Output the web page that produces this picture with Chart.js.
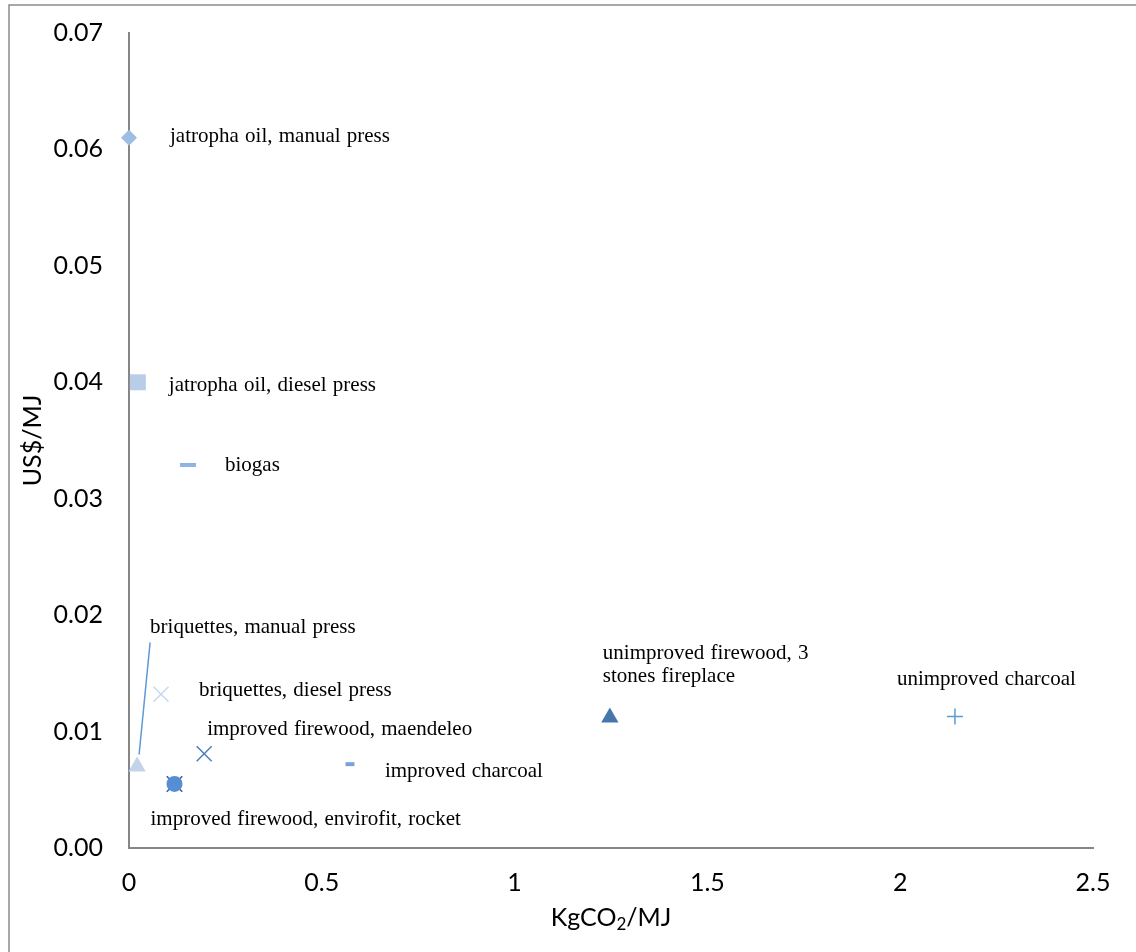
<!DOCTYPE html>
<html>
<head>
<meta charset="utf-8">
<script src="https://cdn.jsdelivr.net/npm/chart.js@4.4.1/dist/chart.umd.min.js"></script>
<style>
  html, body { margin: 0; padding: 0; background: #fff; }
  canvas { display: block; }
</style>
</head>
<body>
<canvas id="plot" width="1136" height="952"></canvas>
<script>
// values
const seriesNames = [
    'jatropha oil, manual press',
    'jatropha oil, diesel press',
    'biogas',
    'briquettes, manual press',
    'briquettes, diesel press',
    'improved firewood, maendeleo',
    'improved firewood, envirofit',
    'improved firewood, rocket',
    'improved charcoal',
    'unimproved firewood, 3 stones fireplace',
    'unimproved charcoal'
];
const xValues = [0.0, 0.023, 0.153, 0.021, 0.083, 0.195, 0.118, 0.118, 0.573, 1.247, 2.142];
const yValues = [0.0610, 0.0400, 0.0329, 0.0070, 0.0132, 0.0081, 0.0055, 0.0055, 0.0072, 0.0112, 0.0113];
const xTicks = [0, 0.5, 1, 1.5, 2, 2.5];
const yTicks = [0, 0.01, 0.02, 0.03, 0.04, 0.05, 0.06, 0.07];

// text next to the markers (which series it belongs to)
const labelTexts = [
    ['jatropha oil, manual press'],
    ['jatropha oil, diesel press'],
    ['biogas'],
    ['briquettes, manual press'],
    ['briquettes, diesel press'],
    ['improved firewood, maendeleo'],
    ['improved firewood, envirofit, rocket'],
    ['improved charcoal'],
    ['unimproved firewood, 3', 'stones fireplace'],
    ['unimproved charcoal']
];
const labelSeries = [0, 1, 2, 3, 4, 5, 7, 8, 9, 10];

// styling, kept apart from the data
const markers = [
    { shape: 'rectRot', color: '#9DBDE4', r: 8, w: 0 },
    { shape: 'rect', color: '#B9CDE8', r: 11.3, w: 0 },
    { shape: 'line', color: '#8EB4E3', r: 8, w: 4 },
    { shape: 'triangle', color: '#C3D3EA', r: 10, w: 0 },
    { shape: 'crossRot', color: '#C6D9F1', r: 10.6, w: 1.5 },
    { shape: 'crossRot', color: '#4A7EBB', r: 10.6, w: 1.5 },
    { shape: 'crossRot', color: '#2F5F95', r: 11, w: 1.5 },
    { shape: 'circle', color: '#558ED5', r: 8, w: 0 },
    { shape: 'line', color: '#7BA3D8', r: 4.5, w: 4 },
    { shape: 'triangle', color: '#4677AA', r: 10, w: 0 },
    { shape: 'cross', color: '#5B9BD5', r: 8, w: 1.5 }
];
const labelOffsets = [[41, 4.5], [31, 9], [37, 6], [13, -134], [38, 2], [3, -19], [-24, 41], [35, 13], [-7, -59], [-58, -31]];

const tickFont = "Lato, 'Liberation Sans', sans-serif";
const serifFont = "'Liberation Serif', serif";
const plotTop = 33;

const datasets = seriesNames.map((name, i) => {
    const m = markers[i];
    const stroked = m.w > 0;
    return {
        label: name,
        data: [{ x: xValues[i], y: yValues[i] }],
        pointStyle: m.shape,
        pointRadius: m.r,
        pointBackgroundColor: m.color,
        pointBorderColor: m.color,
        pointBorderWidth: stroked ? m.w : 0,
        clip: false,
        order: m.shape === 'crossRot' && i === 6 ? 1 : 0
    };
});

const decorPlugin = {
    id: 'decor',
    afterLayout(chart) {
        // pin the top of the plot area
        const ys = chart.scales.y;
        chart.chartArea.top = plotTop;
        chart.chartArea.height = chart.chartArea.bottom - plotTop;
        ys.top = plotTop;
        ys.height = ys.bottom - plotTop;
        ys.configure();
    },
    afterDraw(chart) {
        const ctx = chart.ctx;
        const xs = chart.scales.x, ys = chart.scales.y;
        const area = chart.chartArea;
        ctx.save();

        // outer frame
        ctx.strokeStyle = '#8C8C8C';
        ctx.lineWidth = 1.5;
        ctx.beginPath();
        ctx.moveTo(9, chart.height);
        ctx.lineTo(9, 5);
        ctx.lineTo(chart.width, 5);
        ctx.stroke();

        // leader line for briquettes, manual press
        const bx = xs.getPixelForValue(xValues[3]);
        const by = ys.getPixelForValue(yValues[3]);
        ctx.strokeStyle = '#5B9BD5';
        ctx.lineWidth = 1.5;
        ctx.beginPath();
        ctx.moveTo(bx + 13, by - 124);
        ctx.lineTo(bx + 2, by - 12);
        ctx.stroke();

        // marker labels
        ctx.fillStyle = '#000';
        ctx.font = '21px ' + serifFont;
        ctx.textBaseline = 'alphabetic';
        ctx.textAlign = 'left';
        ctx.wordSpacing = '1px';
        labelTexts.forEach((lines, k) => {
            const s = labelSeries[k];
            const px = xs.getPixelForValue(xValues[s]);
            const py = ys.getPixelForValue(yValues[s]);
            lines.forEach((line, j) => {
                ctx.fillText(line, px + labelOffsets[k][0], py + labelOffsets[k][1] + j * 23);
            });
        });
        ctx.wordSpacing = '0px';

        // axis titles
        ctx.font = '25px ' + tickFont;
        ctx.textBaseline = 'middle';
        ctx.save();
        ctx.translate(33, (area.top + area.bottom) / 2);
        ctx.rotate(-Math.PI / 2);
        ctx.textAlign = 'center';
        ctx.fillText('US$/MJ', 0, 0);
        ctx.restore();

        const cx = (area.left + area.right) / 2;
        const ty = 918;
        const partA = 'KgCO', sub = '2', partB = '/MJ';
        ctx.font = '25px ' + tickFont;
        const wA = ctx.measureText(partA).width;
        const wB = ctx.measureText(partB).width;
        ctx.font = '17px ' + tickFont;
        const wS = ctx.measureText(sub).width;
        let x0 = cx - (wA + wS + wB) / 2;
        ctx.textAlign = 'left';
        ctx.font = '25px ' + tickFont;
        ctx.fillText(partA, x0, ty);
        ctx.font = '17px ' + tickFont;
        ctx.fillText(sub, x0 + wA, ty + 7);
        ctx.font = '25px ' + tickFont;
        ctx.fillText(partB, x0 + wA + wS, ty);

        ctx.restore();
    }
};

new Chart(document.getElementById('plot'), {
    type: 'scatter',
    data: { datasets: datasets },
    options: {
        responsive: false,
        animation: false,
        layout: { autoPadding: false, padding: { top: 25, right: 43, left: 0, bottom: 0 } },
        plugins: { legend: { display: false }, tooltip: { enabled: false } },
        scales: {
            x: {
                type: 'linear',
                min: 0,
                max: 2.5,
                afterBuildTicks: s => { s.ticks = xTicks.map(v => ({ value: v })); },
                afterFit: s => { s.height = 104; },
                grid: { display: false, drawTicks: false },
                border: { display: true, color: '#868686', width: 2 },
                ticks: {
                    color: '#000',
                    padding: 20,
                    maxRotation: 0,
                    font: { family: tickFont, size: 25 },
                    callback: v => String(v)
                }
            },
            y: {
                type: 'linear',
                min: 0,
                max: 0.07,
                afterBuildTicks: s => { s.ticks = yTicks.map(v => ({ value: v })); },
                afterFit: s => { s.width = 129; },
                grid: { display: false, drawTicks: false },
                border: { display: true, color: '#868686', width: 2 },
                ticks: {
                    color: '#000',
                    padding: 26,
                    font: { family: tickFont, size: 25 },
                    callback: v => v.toFixed(2)
                }
            }
        }
    },
    plugins: [decorPlugin]
});
</script>
</body>
</html>
